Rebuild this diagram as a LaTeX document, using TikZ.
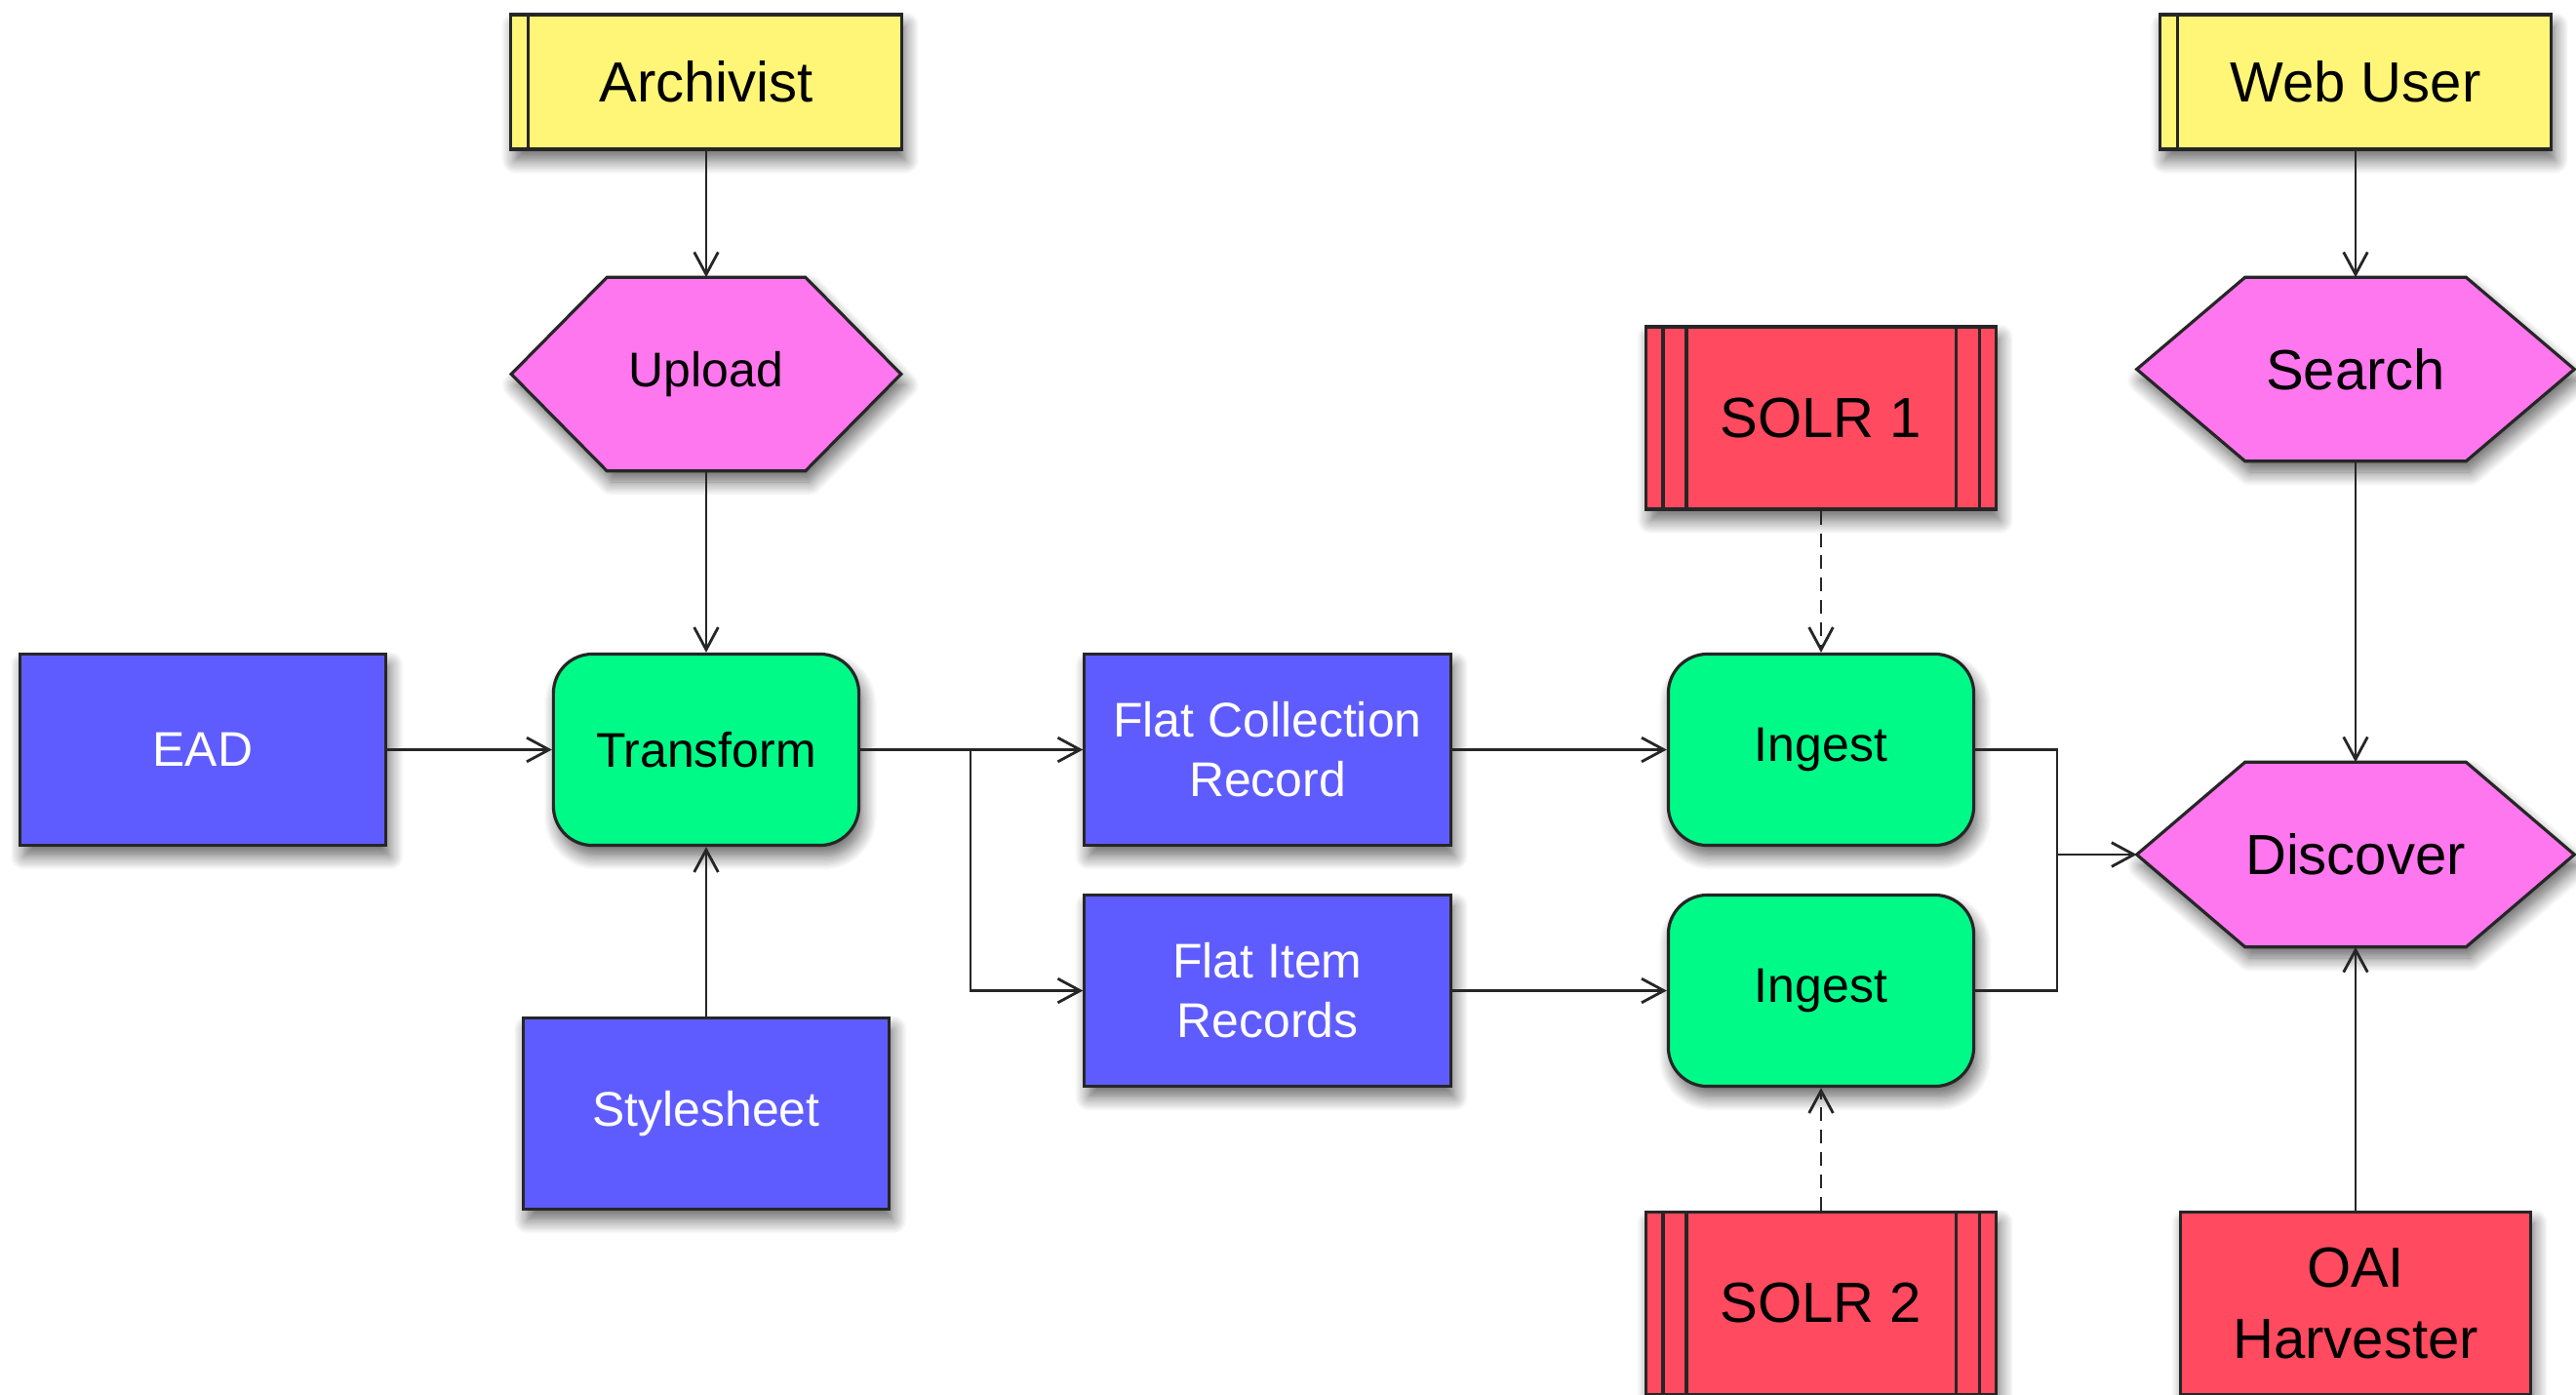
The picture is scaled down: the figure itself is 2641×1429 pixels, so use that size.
\documentclass[tikz,border=0pt]{standalone}
\usepackage{fontspec}
\setmainfont{Liberation Sans}
\usetikzlibrary{arrows.meta,shadows.blur,backgrounds}
\definecolor{cyellow}{HTML}{FFF677}
\definecolor{cpink}{HTML}{FF77EE}
\definecolor{cgreen}{HTML}{00FA88}
\definecolor{cblue}{HTML}{5F5CFF}
\definecolor{cred}{HTML}{FF4A5F}
\newcommand\hexpath[2]{%
  \path[hexfill] (#1.west) -- ([xshift=#2]#1.north west) -- ([xshift=-#2]#1.north east)
    -- (#1.east) -- ([xshift=-#2]#1.south east) -- ([xshift=#2]#1.south west) -- cycle;}
\begin{document}
\begin{tikzpicture}[x=0.01cm,y=-0.01cm,
  shad/.style={blur shadow={shadow xshift=1.2pt,shadow yshift=-3.2pt,shadow blur radius=4pt,shadow blur steps=12,shadow opacity=60}},
  bigfont/.style={font=\fontsize{16.5}{20.5}\selectfont},
  smallfont/.style={font=\fontsize{14.2}{17.4}\selectfont},
  box/.style={draw=black!85,line width=0.9pt,shad,inner sep=0pt,align=center},
  actor/.style={box,fill=cyellow,bigfont,minimum width=4cm,minimum height=1.38cm,
    path picture={\draw[line width=0.9pt,black!85]
      ([xshift=0.18cm]path picture bounding box.north west) -- ([xshift=0.18cm]path picture bounding box.south west);}},
  store/.style={box,fill=cred,bigfont,minimum width=3.58cm,minimum height=1.87cm,
    path picture={\draw[line width=0.9pt,black!85]
      ([xshift=0.17cm]path picture bounding box.north west) -- ([xshift=0.17cm]path picture bounding box.south west)
      ([xshift=0.41cm]path picture bounding box.north west) -- ([xshift=0.41cm]path picture bounding box.south west)
      ([xshift=-0.17cm]path picture bounding box.north east) -- ([xshift=-0.17cm]path picture bounding box.south east)
      ([xshift=-0.41cm]path picture bounding box.north east) -- ([xshift=-0.41cm]path picture bounding box.south east);}},
  redbox/.style={box,fill=cred,bigfont,minimum width=3.58cm,minimum height=1.87cm},
  data/.style={box,fill=cblue,text=white,smallfont,minimum width=3.75cm,minimum height=1.96cm},
  proc/.style={box,fill=cgreen,smallfont,rounded corners=0.4cm,minimum width=3.13cm,minimum height=1.96cm},
  hexnode/.style={inner sep=0pt,align=center},
  hexfill/.style={fill=cpink,draw=black!85,line width=0.9pt,line join=miter,shad},
  conn/.style={line width=0.8pt,black!85,-{Straight Barb[length=6.5pt,width=7pt]}},
  wire/.style={line width=0.8pt,black!85},
  dashline/.style={dash pattern=on 4pt off 2.5pt}
]
\useasboundingbox (0,0) rectangle (2641,1429);

% nodes
\node[actor] (archivist) at (724,84) {Archivist};
\node[actor] (webuser) at (2415,84) {Web User};
\node[hexnode,smallfont,minimum width=3.98cm,minimum height=1.97cm] (upload) at (724,383.5) {Upload};
\node[hexnode,bigfont,minimum width=4.47cm,minimum height=1.87cm] (search) at (2415,378.5) {Search};
\node[hexnode,bigfont,minimum width=4.47cm,minimum height=1.88cm] (discover) at (2415,876) {Discover};
\node[store] (solra) at (1867,428.5) {SOLR 1};
\node[store] (solrb) at (1867,1336) {SOLR 2};
\node[redbox] (oai) at (2415,1336) {OAI\\Harvester};
\node[data] (ead) at (208,768.5) {EAD};
\node[proc] (transform) at (724,768.5) {Transform};
\node[data] (fcr) at (1299.5,768.5) {Flat Collection\\Record};
\node[data] (fir) at (1299.5,1015.5) {Flat Item\\Records};
\node[proc] (ingesta) at (1867,768.5) {Ingest};
\node[proc] (ingestb) at (1867,1015.5) {Ingest};
\node[data] (stylesheet) at (724,1141.5) {Stylesheet};

\begin{scope}[on background layer]
\hexpath{upload}{0.98cm}
\hexpath{search}{1.11cm}
\hexpath{discover}{1.11cm}
\end{scope}

% connectors
\draw[conn] (archivist) -- (upload);
\draw[conn] (upload) -- (transform);
\draw[conn] (ead) -- (transform);
\draw[conn] (stylesheet) -- (transform);
\draw[conn] (transform) -- (fcr);
\coordinate (split) at (995,768.5);
\draw[conn] (split) |- (fir.west);
\draw[conn] (fcr) -- (ingesta);
\draw[conn] (fir) -- (ingestb);
\draw[conn,dashline] (solra) -- (ingesta);
\draw[conn,dashline] (solrb) -- (ingestb);
\coordinate (merge) at (2109,876);
\draw[wire] (ingesta.east) -| (merge);
\draw[wire] (ingestb.east) -| (merge);
\draw[conn] (merge) -- (discover.west);
\draw[conn] (webuser) -- (search);
\draw[conn] (search) -- (discover);
\draw[conn] (oai) -- (discover);
\end{tikzpicture}
\end{document}
